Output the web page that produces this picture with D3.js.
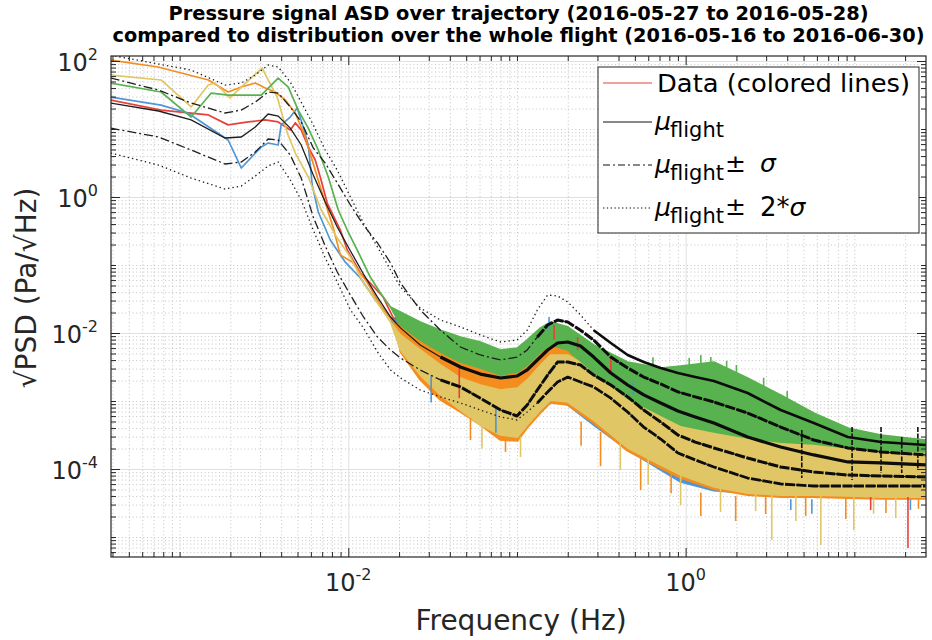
<!DOCTYPE html>
<html><head><meta charset="utf-8">
<script src="https://cdn.jsdelivr.net/npm/d3@7"></script>
<style>body{margin:0;background:#fff;} svg{display:block;font-family:"DejaVu Sans",sans-serif;}</style>
</head><body><svg id="c" width="932" height="640"></svg>
<script>
// ---------- axis limits and ticks ----------
const xLimits = [3.92e-4, 26.6];
const yLimits = [5.08e-6, 118.5];
const xTickValues = [1e-2, 1e0];
const xTickExponents = ["-2", "0"];
const yTickValues = [1e2, 1e0, 1e-2, 1e-4];
const yTickExponents = ["2", "0", "-2", "-4"];

// ---------- flight statistics (black curves) ----------
const statFreq = [3.9e-4, 7.5e-4, 1.17e-3, 1.86e-3, 2.32e-3, 2.81e-3, 3.35e-3, 3.84e-3, 4.53e-3, 5.26e-3, 6.2e-3, 7.3e-3, 8.6e-3, 0.0103, 0.0123, 0.0149, 0.0178, 0.0204, 0.0267, 0.0352, 0.0462, 0.0607, 0.08, 0.1, 0.115, 0.132, 0.152, 0.174, 0.2, 0.238, 0.285, 0.36, 0.453, 0.564, 0.711, 0.9, 1.14, 1.47, 2.33, 3.66, 5.75, 9.15, 14.4, 26.5];
const muFlight = [24.1, 18.4, 13.6, 7.37, 7.63, 10.7, 16.6, 15.5, 10.3, 5.82, 2.11, 0.844, 0.362, 0.161, 0.0737, 0.0338, 0.0172, 0.0119, 6.66e-3, 4.43e-3, 3.16e-3, 2.49e-3, 2.18e-3, 2.33e-3, 2.86e-3, 4.01e-3, 5.62e-3, 7.13e-3, 7.37e-3, 6.44e-3, 4.43e-3, 2.58e-3, 1.72e-3, 1.23e-3, 9.35e-4, 7.13e-4, 5.82e-4, 4.75e-4, 2.95e-4, 2.11e-4, 1.61e-4, 1.27e-4, 1.23e-4, 1.15e-4];
const muPlusSigma = [56.2, 37.4, 24.1, 17.2, 19.0, 24.9, 35.0, 33.8, 21.1, 12.7, 5.26, 3.16, 1.61, 0.763, 0.387, 0.211, 0.107, 0.0544, 0.0218, 0.0110, 6.22e-3, 4.75e-3, 4.01e-3, 4.43e-3, 5.62e-3, 8.73e-3, 0.0131, 0.0155, 0.0145, 0.0110, 7.89e-3, 4.43e-3, 3.06e-3, 2.25e-3, 1.78e-3, 1.36e-3, 1.15e-3, 9.67e-4, 6.66e-4, 4.14e-4, 2.67e-4, 2.04e-4, 1.78e-4, 1.61e-4];
const muMinusSigma = [10.3, 7.63, 4.91, 3.06, 3.27, 4.59, 7.13, 6.89, 4.14, 1.90, 0.508, 0.190, 0.0789, 0.0362, 0.0172, 8.73e-3, 5.62e-3, 4.29e-3, 2.86e-3, 2.04e-3, 1.61e-3, 1.10e-3, 7.37e-4, 6.02e-4, 8.73e-4, 1.45e-3, 2.41e-3, 3.74e-3, 3.74e-3, 3.38e-3, 2.41e-3, 1.72e-3, 1.15e-3, 7.37e-4, 4.91e-4, 3.16e-4, 2.49e-4, 2.04e-4, 1.45e-4, 1.07e-4, 9.03e-5, 8.16e-5, 7.89e-5, 7.63e-5];
const muPlus2Sigma = [122, 90.3, 73.7, 44.3, 47.5, 62.2, 87.3, 81.6, 49.1, 24.9, 11.5, 4.91, 2.49, 1.0, 0.414, 0.184, 0.0844, 0.0475, 0.0233, 0.0155, 0.0123, 9.35e-3, 7.37e-3, 7.89e-3, 0.0110, 0.0218, 0.0362, 0.0350, 0.0286, 0.0184, 0.0110, 7.13e-3, 4.75e-3, 3.74e-3, 3.06e-3, 2.58e-3, 2.25e-3, 1.97e-3, 1.31e-3, 7.37e-4, 4.75e-4, 2.95e-4, 2.49e-4, 2.25e-4];
const muMinus2Sigma = [4.43, 2.95, 1.90, 1.31, 1.45, 2.04, 2.86, 3.27, 1.78, 0.903, 0.327, 0.127, 0.0562, 0.0218, 0.0119, 5.26e-3, 2.86e-3, 2.18e-3, 1.45e-3, 1.15e-3, 9.35e-4, 7.37e-4, 5.82e-4, 5.26e-4, 6.89e-4, 9.35e-4, 1.36e-3, 1.90e-3, 2.25e-3, 1.90e-3, 1.61e-3, 1.10e-3, 6.89e-4, 4.14e-4, 2.76e-4, 1.72e-4, 1.36e-4, 1.07e-4, 7.37e-5, 6.02e-5, 5.62e-5, 5.62e-5, 5.62e-5, 5.62e-5];
const statSpikeFreq = [4.88, 9.7, 14.4, 19.1, 23.8];
const statSpikeTop = [3.74e-4, 4.14e-4, 4.14e-4, 2.95e-4, 4.14e-4];
const statSpikeBottom = [7.37e-5, 6.89e-5, 8.73e-5, 8.73e-5, 1.03e-4];

// ---------- trajectory data (colored series) ----------
// high-frequency part: envelope (upper/lower) of the noisy spectra
const bandFreq = [0.0204, 0.0267, 0.0352, 0.0462, 0.0607, 0.0798, 0.1007, 0.115, 0.138, 0.158, 0.2, 0.285, 0.453, 0.711, 0.934, 1.47, 2.33, 3.66, 5.75, 9.15, 14.4, 26.5];

const redFreqLow = [3.9e-4, 7.77e-4, 1.48e-3, 1.94e-3, 2.55e-3, 3.22e-3, 3.84e-3, 4.53e-3, 4.85e-3, 5.26e-3, 5.79e-3, 6.37e-3, 6.82e-3, 7.5e-3, 8.97e-3, 9.86e-3, 0.0118, 0.0135, 0.0161, 0.0185];
const redLow = [26.7, 19.0, 16.1, 11.5, 12.7, 13.6, 12.7, 9.67, 12.3, 9.67, 5.44, 3.50, 1.97, 0.816, 0.327, 0.166, 0.0763, 0.0544, 0.0338, 0.0166];
const redHi = [0.0166, 0.0110, 7.89e-3, 5.62e-3, 4.75e-3, 4.01e-3, 4.01e-3, 5.62e-3, 9.35e-3, 0.0119, 0.0100, 5.26e-3, 2.04e-3, 1.23e-3, 8.73e-4, 6.22e-4, 4.43e-4, 3.74e-4, 3.27e-4, 3.06e-4, 2.86e-4, 2.67e-4];
const redLo = [7.37e-3, 3.38e-3, 1.72e-3, 1.10e-3, 7.37e-4, 5.26e-4, 4.43e-4, 6.89e-4, 1.23e-3, 1.45e-3, 1.23e-3, 6.22e-4, 2.49e-4, 1.27e-4, 8.16e-5, 5.82e-5, 4.59e-5, 4.3e-5, 4.3e-5, 4.3e-5, 4.2e-5, 4.2e-5];
const redSpikes = [[0.166, 8.0e-3, 0.0131], [0.229, 5.6e-3, 8.7e-3], [0.36, 2.6e-3, 4.4e-3], [0.0455, 3.4e-3, 1.1e-3], [12.5, 3.87e-5, 2.49e-5], [20.8, 3.87e-5, 6.89e-6]];

const blueFreqLow = [3.9e-4, 7.77e-4, 1.12e-3, 1.94e-3, 2.32e-3, 3.05e-3, 3.35e-3, 3.84e-3, 4.0e-3, 4.53e-3, 4.98e-3, 5.41e-3, 5.79e-3, 6.11e-3, 6.64e-3, 7.82e-3, 9.6e-3, 0.0118, 0.0145, 0.0178];
const blueLow = [29.5, 22.5, 17.2, 6.89, 2.67, 5.44, 6.22, 5.82, 11.5, 15.0, 20.4, 10.7, 5.82, 1.50, 0.602, 0.233, 0.110, 0.0644, 0.0306, 0.0166];
const blueHi = [0.0145, 9.35e-3, 6.66e-3, 5.26e-3, 4.29e-3, 3.74e-3, 3.74e-3, 4.75e-3, 7.89e-3, 9.35e-3, 7.89e-3, 4.29e-3, 1.72e-3, 1.03e-3, 7.37e-4, 5.26e-4, 4.01e-4, 3.50e-4, 3.06e-4, 2.86e-4, 2.67e-4, 2.49e-4];
const blueLo = [6.66e-3, 2.67e-3, 1.36e-3, 8.73e-4, 5.62e-4, 4.01e-4, 3.50e-4, 5.26e-4, 8.73e-4, 1.03e-3, 8.73e-4, 4.43e-4, 1.90e-4, 9.67e-5, 6.44e-5, 4.8e-5, 4.4e-5, 4.4e-5, 4.4e-5, 4.3e-5, 4.2e-5, 4.2e-5];
const blueSpikes = [[0.155, 0.0110, 0.0172], [0.49, 1.2e-3, 2.0e-3], [0.031, 2.4e-3, 9.5e-4], [0.075, 8.0e-4, 3.4e-4], [4.2, 3.6e-5, 2.49e-5], [5.6, 3.6e-5, 2.2e-5], [21.5, 3.6e-5, 2.49e-5]];

const orangeFreqLow = [3.9e-4, 7.45e-4, 1.48e-3, 1.94e-3, 2.32e-3, 2.81e-3, 3.22e-3, 3.69e-3, 4.23e-3, 4.85e-3, 5.56e-3, 6.03e-3, 6.91e-3, 8.15e-3, 8.97e-3, 0.0106, 0.0130, 0.0155, 0.0185];
const orangeLow = [103, 81.6, 52.6, 35.0, 41.4, 47.5, 40.1, 35.0, 26.7, 17.2, 7.63, 3.87, 1.27, 0.350, 0.141, 0.110, 0.0544, 0.0258, 0.0145];
const orangeHi = [0.0131, 7.89e-3, 5.62e-3, 4.43e-3, 3.74e-3, 3.06e-3, 2.67e-3, 3.38e-3, 5.62e-3, 6.66e-3, 5.62e-3, 3.38e-3, 1.45e-3, 8.73e-4, 5.62e-4, 4.43e-4, 3.74e-4, 3.16e-4, 2.76e-4, 2.67e-4, 2.41e-4, 2.25e-4];
const orangeLo = [5.26e-3, 2.04e-3, 1.03e-3, 6.89e-4, 4.43e-4, 2.67e-4, 2.58e-4, 4.01e-4, 6.66e-4, 9.35e-4, 8.73e-4, 4.75e-4, 1.84e-4, 1.03e-4, 7.37e-5, 5.05e-5, 4.14e-5, 3.87e-5, 3.87e-5, 3.74e-5, 3.62e-5, 3.62e-5];
const orangeSpikes = [[0.053, 5.62e-4, 2.67e-4], [0.0855, 2.9e-4, 1.78e-4], [0.24, 5.0e-4, 2.2e-4], [0.313, 3.5e-4, 1.10e-4], [0.541, 1.4e-4, 4.91e-5], [0.82, 9.0e-5, 4.4e-5], [1.23, 4.5e-5, 2.04e-5], [1.98, 4.0e-5, 1.72e-5], [2.98, 3.87e-5, 2.18e-5], [5.15, 3.87e-5, 2.04e-5], [8.9, 3.74e-5, 1.84e-5], [15.4, 3.62e-5, 2.25e-5], [24.0, 3.62e-5, 2.6e-5]];

const yellowFreqLow = [3.9e-4, 7.77e-4, 1.17e-3, 1.48e-3, 1.62e-3, 1.99e-3, 2.32e-3, 3.09e-3, 3.35e-3, 3.79e-3, 4.35e-3, 4.85e-3, 5.79e-3, 6.91e-3, 8.6e-3, 0.0103, 0.0123, 0.0149, 0.0178];
const yellowLow = [62.2, 52.6, 21.1, 44.3, 47.5, 28.6, 41.4, 78.9, 52.6, 29.5, 8.73, 4.43, 1.97, 0.644, 0.249, 0.131, 0.0544, 0.0276, 0.0145];
const yellowHi = [9.35e-3, 5.62e-3, 3.38e-3, 2.18e-3, 1.72e-3, 1.45e-3, 1.55e-3, 2.04e-3, 3.38e-3, 4.75e-3, 4.75e-3, 2.86e-3, 1.23e-3, 6.89e-4, 4.91e-4, 4.01e-4, 3.16e-4, 2.67e-4, 2.41e-4, 2.25e-4, 2.04e-4, 1.90e-4];
const yellowLo = [5.62e-3, 2.41e-3, 1.23e-3, 7.37e-4, 4.43e-4, 3.16e-4, 2.95e-4, 4.43e-4, 7.37e-4, 1.03e-3, 9.67e-4, 5.26e-4, 2.04e-4, 1.15e-4, 8.16e-5, 5.44e-5, 4.43e-5, 4.14e-5, 4.14e-5, 4.01e-5, 3.87e-5, 3.87e-5];
const yellowSpikes = [[0.062, 4.4e-4, 2.0e-4], [0.105, 3.0e-4, 1.5e-4], [0.41, 2.41e-4, 9.67e-5], [0.6, 1.5e-4, 6.0e-5], [0.934, 8.16e-5, 2.95e-5], [1.61, 5.44e-5, 2.33e-5], [2.6, 4.3e-5, 2.4e-5], [3.24, 4.14e-5, 9.03e-6], [4.5, 4.14e-5, 1.72e-5], [6.33, 4.14e-5, 7.63e-6], [9.93, 4.01e-5, 1.27e-5], [13.0, 3.9e-5, 2.2e-5], [17.6, 3.87e-5, 1.90e-5]];

const greenFreqLow = [3.9e-4, 7.77e-4, 1.17e-3, 1.54e-3, 1.94e-3, 3.05e-3, 3.84e-3, 4.41e-3, 5.05e-3, 5.79e-3, 6.64e-3, 7.61e-3, 8.72e-3, 9.86e-3, 0.0113, 0.0135, 0.0155, 0.0178];
const greenLow = [47.5, 35.0, 15.0, 33.8, 31.6, 31.6, 56.2, 41.4, 19.0, 10.3, 4.91, 1.97, 0.644, 0.327, 0.166, 0.0666, 0.0387, 0.0241];
const greenHi = [0.0204, 0.0145, 0.0110, 8.73e-3, 7.37e-3, 5.62e-3, 6.02e-3, 7.89e-3, 0.0119, 0.0145, 0.0123, 6.66e-3, 3.74e-3, 3.06e-3, 3.27e-3, 3.74e-3, 2.18e-3, 1.23e-3, 6.66e-4, 4.01e-4, 3.16e-4, 2.67e-4];
const greenLo = [0.0131, 7.89e-3, 5.26e-3, 3.74e-3, 3.06e-3, 2.41e-3, 2.67e-3, 3.38e-3, 5.26e-3, 6.66e-3, 5.62e-3, 2.67e-3, 1.10e-3, 6.22e-4, 4.43e-4, 3.50e-4, 2.86e-4, 2.49e-4, 2.33e-4, 2.04e-4, 1.90e-4, 1.78e-4];
const greenSpikes = [[0.64, 3.2e-3, 4.4e-3], [1.05, 3.3e-3, 4.3e-3], [1.23, 3.5e-3, 4.75e-3], [1.41, 3.6e-3, 4.43e-3], [1.75, 3.0e-3, 3.9e-3], [2.0, 2.5e-3, 3.38e-3], [2.9, 1.6e-3, 2.2e-3], [4.0, 1.0e-3, 1.4e-3]];

// ---------- drawing ----------
const svg = d3.select("#c");
const P = {l: 111, r: 926, t: 56, b: 557};
const x = d3.scaleLog().domain(xLimits).range([P.l, P.r]);
const y = d3.scaleLog().domain(yLimits).range([P.b, P.t]);
const INK = "#262626";

function minorValues(dom, majors) {
  const out = [];
  for (let e = Math.floor(Math.log10(dom[0])); e <= Math.ceil(Math.log10(dom[1])); e++) {
    for (let k = 1; k < 10; k++) {
      const v = k * Math.pow(10, e);
      if (v >= dom[0] && v <= dom[1] && !majors.some(m => Math.abs(m - v) / m < 1e-9)) out.push(v);
    }
  }
  return out;
}
const xMinor = minorValues(xLimits, xTickValues);
const yMinor = minorValues(yLimits, yTickValues);

svg.append("rect").attr("x", P.l).attr("y", P.t).attr("width", P.r - P.l).attr("height", P.b - P.t).attr("fill", "#fff");

// grid (through d3 axes)
function gridAxis(axis, tr, dash, color) {
  const g = svg.append("g").attr("transform", tr).call(axis);
  g.select(".domain").remove();
  g.selectAll("line").attr("stroke", color).attr("stroke-width", 0.9).attr("stroke-dasharray", dash);
  g.selectAll("text").remove();
}
gridAxis(d3.axisBottom(x).tickValues(xMinor).tickSize(-(P.b - P.t)).tickFormat(""), `translate(0,${P.b})`, "1,2.6", "#bdbdbd");
gridAxis(d3.axisLeft(y).tickValues(yMinor).tickSize(-(P.r - P.l)).tickFormat(""), `translate(${P.l},0)`, "1,2.6", "#bdbdbd");
gridAxis(d3.axisBottom(x).tickValues(xTickValues).tickSize(-(P.b - P.t)).tickFormat(""), `translate(0,${P.b})`, null, "#dcdcdc");
gridAxis(d3.axisLeft(y).tickValues(yTickValues).tickSize(-(P.r - P.l)).tickFormat(""), `translate(${P.l},0)`, null, "#dcdcdc");

// clip
svg.append("clipPath").attr("id", "clip").append("rect")
  .attr("x", P.l).attr("y", P.t).attr("width", P.r - P.l).attr("height", P.b - P.t);
const dataG = svg.append("g").attr("clip-path", "url(#clip)");

const series = [
  {color: "#e8413c", fLow: redFreqLow, vLow: redLow, hi: redHi, lo: redLo, spikes: redSpikes},
  {color: "#4e96d6", fLow: blueFreqLow, vLow: blueLow, hi: blueHi, lo: blueLo, spikes: blueSpikes},
  {color: "#f58d1e", fLow: orangeFreqLow, vLow: orangeLow, hi: orangeHi, lo: orangeLo, spikes: orangeSpikes},
  {color: "#e0c665", fLow: yellowFreqLow, vLow: yellowLow, hi: yellowHi, lo: yellowLo, spikes: yellowSpikes},
  {color: "#58b24f", fLow: greenFreqLow, vLow: greenLow, hi: greenHi, lo: greenLo, spikes: greenSpikes}
];
const line = d3.line();
series.forEach(s => {
  const fs = s.fLow.concat(bandFreq);
  const up = s.vLow.concat(s.hi);
  const dn = s.vLow.concat(s.lo);
  const pts = fs.map((f, i) => [x(f), y(up[i])]).concat(fs.map((f, i) => [x(f), y(dn[i])]).reverse());
  dataG.append("path").attr("d", line(pts) + "Z")
    .attr("fill", s.color).attr("stroke", s.color).attr("stroke-width", 1.7)
    .attr("stroke-linejoin", "round");
});
series.forEach(s => {
  dataG.selectAll(null).data(s.spikes).join("line")
    .attr("x1", d => x(d[0])).attr("x2", d => x(d[0]))
    .attr("y1", d => y(d[1])).attr("y2", d => y(d[2]))
    .attr("stroke", s.color).attr("stroke-width", 1.6);
});

// statistics
const stats = [
  {v: muPlus2Sigma, dash: "1.4,3", thickFrom: 0.3, w: 2.6},
  {v: muPlusSigma, dash: "9,3,2,3", thickFrom: 0.15, w: 3.0},
  {v: muFlight, dash: null, thickFrom: 0.04, w: 3.2},
  {v: muMinusSigma, dash: "9,3,2,3", thickFrom: 0.04, w: 3.0},
  {v: muMinus2Sigma, dash: "1.4,3", thickFrom: 0.15, w: 2.8}
];
stats.forEach(s => {
  const pts = statFreq.map((f, i) => [x(f), y(s.v[i])]);
  dataG.append("path").attr("d", line(pts)).attr("fill", "none")
    .attr("stroke", "#1e1e1e").attr("stroke-width", 1.3)
    .attr("stroke-dasharray", s.dash);
  const idx = statFreq.map((f, i) => i).filter(i => statFreq[i] >= s.thickFrom || (i + 1 < statFreq.length && statFreq[i + 1] >= s.thickFrom));
  const tp = idx.map(i => [x(statFreq[i]), y(s.v[i])]);
  dataG.append("path").attr("d", line(tp)).attr("fill", "none")
    .attr("stroke", "#0d0d0d").attr("stroke-width", s.w).attr("stroke-linejoin", "round")
    .attr("stroke-dasharray", s.dash && s.thickFrom < 0.2 ? "10,1.5" : null);
});
dataG.selectAll(null).data(statSpikeFreq).join("line")
  .attr("x1", d => x(d)).attr("x2", d => x(d))
  .attr("y1", (d, i) => y(statSpikeTop[i])).attr("y2", (d, i) => y(statSpikeBottom[i]))
  .attr("stroke", "#111").attr("stroke-width", 1.6).attr("stroke-dasharray", "5,1.5");

// axes box and ticks
function tickAxis(axis, tr) {
  const g = svg.append("g").attr("transform", tr).call(axis);
  g.select(".domain").remove();
  g.selectAll("line").attr("stroke", INK).attr("stroke-width", 1);
  g.selectAll("text").remove();
}
[[xMinor, 5], [xTickValues, 9]].forEach(([vals, len]) => {
  tickAxis(d3.axisBottom(x).tickValues(vals).tickSize(-len).tickSizeOuter(0), `translate(0,${P.b})`);
  tickAxis(d3.axisTop(x).tickValues(vals).tickSize(-len).tickSizeOuter(0), `translate(0,${P.t})`);
});
[[yMinor, 5], [yTickValues, 9]].forEach(([vals, len]) => {
  tickAxis(d3.axisLeft(y).tickValues(vals).tickSize(-len).tickSizeOuter(0), `translate(${P.l},0)`);
  tickAxis(d3.axisRight(y).tickValues(vals).tickSize(-len).tickSizeOuter(0), `translate(${P.r},0)`);
});
svg.append("rect").attr("x", P.l).attr("y", P.t).attr("width", P.r - P.l).attr("height", P.b - P.t)
  .attr("fill", "none").attr("stroke", INK).attr("stroke-width", 1.2);

// tick labels
xTickValues.forEach((v, i) => {
  const t = svg.append("text").attr("x", x(v)).attr("y", 591).attr("text-anchor", "middle")
    .attr("font-size", 24).attr("fill", INK);
  t.append("tspan").text("10");
  t.append("tspan").attr("dy", -11).attr("font-size", 16).text(xTickExponents[i]);
});
yTickValues.forEach((v, i) => {
  const t = svg.append("text").attr("x", 98).attr("y", y(v) + 10).attr("text-anchor", "end")
    .attr("font-size", 24).attr("fill", INK);
  t.append("tspan").text("10");
  t.append("tspan").attr("dy", -11).attr("font-size", 16).text(yTickExponents[i]);
});

// axis labels
svg.append("text").attr("x", 521).attr("y", 630).attr("text-anchor", "middle")
  .attr("font-size", 28).attr("fill", INK).text("Frequency (Hz)");
svg.append("text").attr("transform", "translate(36,288) rotate(-90)").attr("text-anchor", "middle")
  .attr("font-size", 28).attr("fill", INK).text("√PSD (Pa/√Hz)");

// title
const titleLines = ["Pressure signal ASD over trajectory (2016-05-27 to 2016-05-28)",
                    "compared to distribution over the whole flight (2016-05-16 to 2016-06-30)"];
const titleWidths = [700, 812];
titleLines.forEach((s, i) => {
  svg.append("text").attr("x", 518.5).attr("y", 20 + i * 22).attr("text-anchor", "middle")
    .attr("font-size", 19).attr("font-weight", "bold").attr("fill", "#000")
    .attr("textLength", titleWidths[i]).attr("lengthAdjust", "spacingAndGlyphs").text(s);
});

// legend
const lg = svg.append("g");
lg.append("rect").attr("x", 598).attr("y", 67).attr("width", 321).attr("height", 166)
  .attr("fill", "#fff").attr("stroke", INK).attr("stroke-width", 1);
const rowY = [83, 122, 165, 208];
const sampleStyles = [{c: "#e8413c", d: null}, {c: "#111", d: null}, {c: "#111", d: "7,3,2,3"}, {c: "#111", d: "1.4,2.4"}];
sampleStyles.forEach((s, i) => {
  lg.append("line").attr("x1", 603).attr("x2", 652).attr("y1", rowY[i]).attr("y2", rowY[i])
    .attr("stroke", s.c).attr("stroke-width", 1.2).attr("stroke-dasharray", s.d);
});
lg.append("text").attr("x", 657).attr("y", rowY[0] + 9).attr("font-size", 24).attr("fill", "#000")
  .attr("textLength", 253).attr("lengthAdjust", "spacingAndGlyphs").text("Data (colored lines)");
[1, 2, 3].forEach(r => {
  const yy = rowY[r];
  lg.append("text").attr("x", 655).attr("y", yy + 8).attr("font-size", 25).attr("font-style", "italic").attr("fill", "#000").text("μ");
  lg.append("text").attr("x", 670).attr("y", yy + 15).attr("font-size", 21).attr("fill", "#000").text("flight");
  if (r >= 2) {
    lg.append("text").attr("x", 725).attr("y", yy + 7).attr("font-size", 25).attr("fill", "#000").text("±");
  }
  if (r === 2) {
    lg.append("text").attr("x", 760).attr("y", yy + 7).attr("font-size", 25).attr("font-style", "italic").attr("fill", "#000").text("σ");
  }
  if (r === 3) {
    const t = lg.append("text").attr("x", 760).attr("y", yy + 8).attr("font-size", 26).attr("fill", "#000");
    t.append("tspan").text("2*");
    t.append("tspan").attr("font-style", "italic").attr("font-size", 25).text("σ");
  }
});
</script>
</body></html>
